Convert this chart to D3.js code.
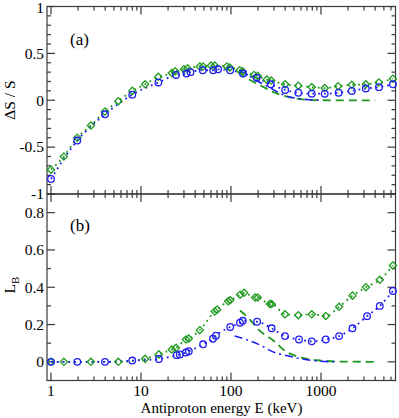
<!DOCTYPE html>
<html><head><meta charset="utf-8">
<script src="https://cdn.jsdelivr.net/npm/d3@7"></script>
<style>body{margin:0;background:#fff}svg{display:block}text{font-family:"Liberation Serif","Times New Roman",serif;fill:#000}</style>
</head><body><svg id="c" width="399" height="418"></svg>
<script>
// ---------- data ----------
const xTicks = [1, 10, 100, 1000];
const yTicksA = [-1, -0.5, 0, 0.5, 1];
const yTicksB = [0, 0.2, 0.4, 0.6, 0.8];
// panel (a) ΔS/S
const greenA = [[1,-0.74],[1.39,-0.60],[1.96,-0.40],[2.78,-0.27],[3.98,-0.12],[5.6,-0.01],[8.0,0.10],[11.1,0.17],[15.6,0.25],[22,0.29],[24,0.31],[30,0.33],[33,0.34],[45,0.36],[49,0.36],[60,0.37],[66,0.37],[90,0.36],[97,0.35],[125,0.32],[135,0.31],[180,0.27],[198,0.26],[250,0.22],[280,0.21],[400,0.17],[560,0.155],[790,0.14],[1100,0.13],[1550,0.15],[2200,0.165],[3150,0.17],[4400,0.19],[6300,0.23]];
const blueA = [[1,-0.84],[1.96,-0.43],[3.98,-0.15],[8,0.06],[15.6,0.19],[24.5,0.27],[32,0.285],[35.5,0.30],[48.5,0.32],[63.5,0.32],[72,0.33],[98,0.32],[136,0.285],[193,0.24],[277,0.17],[400,0.11],[560,0.08],[790,0.07],[1100,0.07],[1570,0.08],[2200,0.10],[3150,0.125],[4400,0.14],[6300,0.17]];
const greenDashA = [[120,0.30],[163,0.215],[210,0.16],[350,0.06],[580,0.013],[1000,0.0],[2000,-0.002],[4000,0]];
const blueDashDotA = [[125,0.32],[170,0.24],[258,0.145],[400,0.05],[750,0.005],[1000,0]];
// panel (b) L_B
const greenB = [[1,0],[1.39,0],[2.78,0],[5.6,0],[11.1,0.016],[15.8,0.04],[22,0.066],[24.5,0.075],[31.6,0.12],[34,0.125],[45,0.17],[66,0.27],[70,0.28],[93,0.325],[98,0.33],[126,0.36],[140,0.37],[185,0.345],[198,0.345],[270,0.31],[283,0.31],[398,0.255],[560,0.25],[790,0.255],[1130,0.246],[1590,0.295],[2240,0.355],[3160,0.40],[4500,0.44],[6300,0.517]];
const blueB = [[1,0],[1.96,0],[3.98,0],[8,0.007],[15.8,0.015],[25,0.036],[27,0.04],[31.6,0.05],[34,0.057],[49,0.094],[63,0.124],[68,0.14],[98,0.187],[126,0.21],[135,0.22],[195,0.215],[283,0.18],[398,0.138],[570,0.12],[790,0.11],[1130,0.12],[1590,0.138],[2240,0.18],[3250,0.245],[4500,0.30],[6300,0.38]];
const greenDashB = [[126,0.275],[160,0.23],[200,0.175],[307,0.108],[380,0.066],[640,0.02],[1000,0.007],[1500,0.002],[4000,0]];
const blueDashDotB = [[110,0.139],[200,0.095],[322,0.046],[380,0.038],[640,0.014],[1000,0.003],[1500,0]];

// ---------- layout ----------
const GREEN = "#1f9a1f", BLUE = "#1f1ff0", FRAME = "#3a3a3a";
const svg = d3.select("#c");
const x = d3.scaleLog().domain([0.903, 6730]).range([47, 395.5]);
const yA = d3.scaleLinear().domain([-1, 1]).range([194, 6.5]);
const yB = d3.scaleLinear().domain([-0.1, 0.9]).range([380.5, 194]);

function minorX() {
  const out = [];
  for (let d = 0.1; d <= 1000; d *= 10)
    for (let k = 1; k <= 9; k++) { const v = d * k; if (v >= x.domain()[0] && v <= x.domain()[1]) out.push(v); }
  return out;
}
function minorY(y) {
  const [a, b] = y.domain(), out = [];
  for (let v = Math.ceil(a * 10 - 1e-9); v <= Math.floor(b * 10 + 1e-9); v++) out.push(v / 10);
  return out;
}

function frame(y, yTicks, showX) {
  const g = svg.append("g");
  const [x0, x1] = x.range(), [yb, yt] = y.range();
  g.append("rect").attr("x", x0).attr("y", yt).attr("width", x1 - x0).attr("height", yb - yt)
    .attr("fill", "none").attr("stroke", FRAME).attr("stroke-width", 1.2);
  const majX = xTicks, minX = minorX().filter(v => !xTicks.includes(v));
  const tk = (x1_, y1_, x2_, y2_) => g.append("line").attr("x1", x1_).attr("y1", y1_).attr("x2", x2_).attr("y2", y2_).attr("stroke", FRAME).attr("stroke-width", 1.2);
  majX.forEach(v => { const p = x(v); tk(p, yb, p, yb - 8); tk(p, yt, p, yt + 8); });
  minX.forEach(v => { const p = x(v); tk(p, yb, p, yb - 4); tk(p, yt, p, yt + 4); });
  const minY = minorY(y).filter(v => !yTicks.some(t => Math.abs(t - v) < 1e-9));
  yTicks.forEach(v => { const p = y(v); tk(x0, p, x0 + 8, p); tk(x1, p, x1 - 8, p); });
  minY.forEach(v => { const p = y(v); tk(x0, p, x0 + 4, p); tk(x1, p, x1 - 4, p); });
  yTicks.forEach(v => g.append("text").attr("x", x0 - 3).attr("y", Math.max(y(v) + 5.3, 12.5))
    .attr("text-anchor", "end").attr("font-size", 15.5).text(String(v)));
  if (showX) xTicks.forEach(v => g.append("text").attr("x", x(v)).attr("y", yb + 15)
    .attr("text-anchor", "middle").attr("font-size", 15.5).text(String(v)));
}
frame(yA, yTicksA, false);
frame(yB, yTicksB, true);

function line(data, y, color, dash, w) {
  svg.append("path").datum(data)
    .attr("d", d3.line().x(d => x(d[0])).y(d => y(d[1])).curve(d3.curveMonotoneX))
    .attr("fill", "none").attr("stroke", color).attr("stroke-width", w).attr("stroke-dasharray", dash);
}
function circles(data, y) {
  svg.append("g").selectAll("circle").data(data).join("circle")
    .attr("cx", d => x(d[0])).attr("cy", d => y(d[1])).attr("r", 3.3)
    .attr("fill", "none").attr("stroke", BLUE).attr("stroke-width", 1.3);
}
function diamonds(data, y) {
  svg.append("g").selectAll("path").data(data).join("path")
    .attr("transform", d => `translate(${x(d[0])},${y(d[1])})`)
    .attr("d", "M0,-3.6L3.6,0L0,3.6L-3.6,0Z")
    .attr("fill", "none").attr("stroke", GREEN).attr("stroke-width", 1.3);
}

// panel (a)
line(greenA, yA, GREEN, "1.8,4", 1.8);
line(blueA, yA, BLUE, "1.8,4", 1.8);
line(greenDashA, yA, GREEN, "8,5", 1.8);
line(blueDashDotA, yA, BLUE, "8,4,2,4", 1.6);
diamonds(greenA, yA);
circles(blueA, yA);
// panel (b)
line(greenB, yB, GREEN, "1.8,4", 1.8);
line(blueB, yB, BLUE, "1.8,4", 1.8);
line(greenDashB, yB, GREEN, "8,5", 1.8);
line(blueDashDotB, yB, BLUE, "8,4,2,4", 1.6);
diamonds(greenB, yB);
circles(blueB, yB);

// labels
svg.append("text").attr("x", 70).attr("y", 45).attr("font-size", 17).text("(a)");
svg.append("text").attr("x", 70).attr("y", 231).attr("font-size", 17).text("(b)");
svg.append("text").attr("transform", "translate(15,100) rotate(-90)").attr("text-anchor", "middle")
  .attr("font-size", 15.5).text("ΔS / S");
const lb = svg.append("text").attr("transform", "translate(15,285) rotate(-90)").attr("text-anchor", "middle").attr("font-size", 15.5);
lb.append("tspan").text("L");
lb.append("tspan").attr("font-size", 11).attr("dy", 4).text("B");
svg.append("text").attr("x", 221.5).attr("y", 413).attr("text-anchor", "middle").attr("font-size", 15)
  .text("Antiproton energy E (keV)");
</script></body></html>
